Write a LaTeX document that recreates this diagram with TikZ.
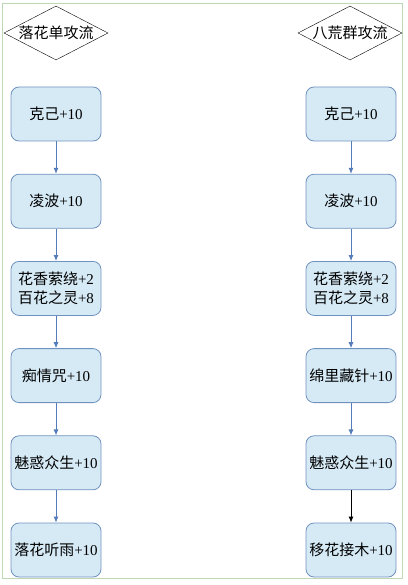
\documentclass[tikz,border=0pt]{standalone}
\usepackage{fontspec}
\setmainfont{Liberation Serif}
\newfontfamily\cjk{Noto Sans CJK SC}
\usetikzlibrary{arrows.meta,shapes.geometric}
\definecolor{boxfill}{RGB}{214,234,246}
\definecolor{boxline}{RGB}{112,146,190}
\definecolor{flowblue}{RGB}{84,124,186}
\definecolor{framegreen}{RGB}{190,215,180}
\tikzset{
  skill/.style={draw=boxline, fill=boxfill, rounded corners=8pt, line width=0.8pt,
    minimum width=90pt, minimum height=54pt, inner sep=1pt, align=center,
    font=\fontsize{15}{19}\selectfont},
  school/.style={diamond, draw, aspect=1.9, inner sep=0pt, minimum width=104pt,
    minimum height=54pt, font=\fontsize{15}{18}\selectfont},
  flow/.style={draw=flowblue, line width=0.8pt, -{Latex[length=6pt,width=5pt]}}
}
\begin{document}
\begin{tikzpicture}[x=1pt,y=-1pt]
          \useasboundingbox (0,0) rectangle (407,585);
          \draw[framegreen] (2,3) rectangle (402,578);
          % heads
          \node[school] (lhead) at (56,33) {\cjk 落花单攻流};
          \node[school] (rhead) at (350,33) {\cjk 八荒群攻流};
          % left column
          \foreach \i/\t in {1/{\cjk 克己}+10, 2/{\cjk 凌波}+10,
              3/{{\cjk 花香萦绕}+2\\{\cjk 百花之灵}+8}, 4/{\cjk 痴情咒}+10,
              5/{\cjk 魅惑众生}+10, 6/{\cjk 落花听雨}+10}
          \node[skill] (l\i) at (56, 114 + 87.2*\i - 87.2) {\t};
          % right column
          \foreach \i/\t in {1/{\cjk 克己}+10, 2/{\cjk 凌波}+10,
              3/{{\cjk 花香萦绕}+2\\{\cjk 百花之灵}+8}, 4/{\cjk 绵里藏针}+10,
              5/{\cjk 魅惑众生}+10, 6/{\cjk 移花接木}+10}
          \node[skill] (r\i) at (351, 114 + 87.2*\i - 87.2) {\t};
          \foreach \i/\j in {1/2, 2/3, 3/4, 4/5, 5/6}
          \draw[flow] (l\i) -- (l\j);
          \foreach \i/\j in {1/2, 2/3, 3/4, 4/5}
          \draw[flow] (r\i) -- (r\j);
          \draw[flow, draw=black] (r5) -- (r6);
        \end{tikzpicture}
\end{document}
